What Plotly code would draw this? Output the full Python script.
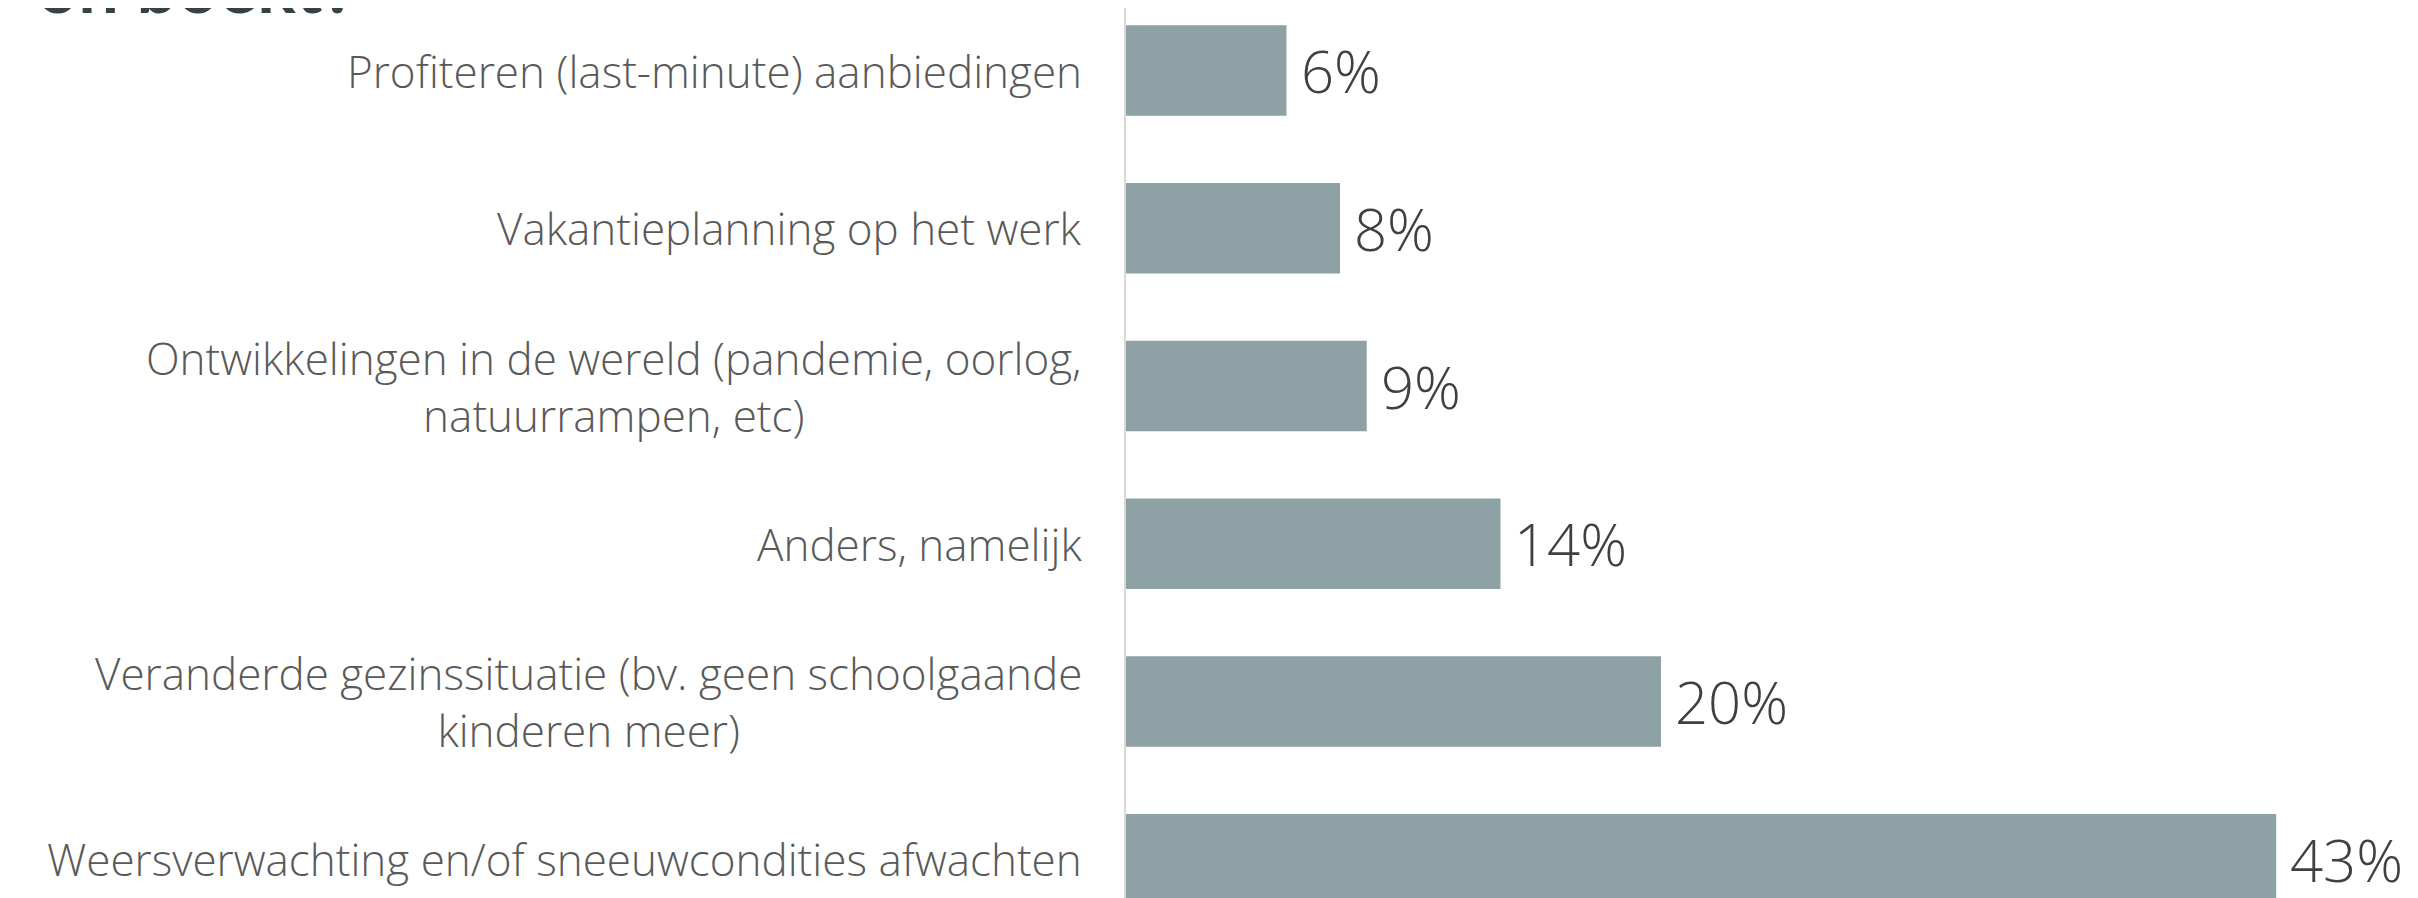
import plotly.graph_objects as go

categories = [
    "Profiteren (last-minute) aanbiedingen",
    "Vakantieplanning op het werk",
    "Ontwikkelingen in de wereld (pandemie, oorlog,<br>natuurrampen, etc)",
    "Anders, namelijk",
    "Veranderde gezinssituatie (bv. geen schoolgaande<br>kinderen meer)",
    "Weersverwachting en/of sneeuwcondities afwachten",
]
values = [6, 8, 9, 14, 20, 43]
value_labels = ["6%", "8%", "9%", "14%", "20%", "43%"]
title_fragment = "on boekt?"

# page body has an 8px margin; the figure is sized to fill the rest
W, H = 2410, 890
AXIS_X = 1118

fig = go.Figure(
    go.Bar(
        x=values,
        y=categories,
        orientation="h",
        width=0.575,
        marker=dict(color="#8ea1a4", line=dict(width=0)),
        hoverinfo="skip",
        cliponaxis=False,
    )
)

annotations = []
for cat in categories:
    annotations.append(dict(
        xref="paper", x=0, xanchor="right", xshift=-42,
        yref="y", y=cat, yanchor="middle",
        text=cat, showarrow=False, align="center",
        font=dict(family="Open Sans", size=44, color="#595959", weight=300),
    ))
for cat, v, lab in zip(categories, values, value_labels):
    annotations.append(dict(
        xref="x", x=v, xanchor="left", xshift=12,
        yref="y", y=cat, yanchor="middle",
        text=lab, showarrow=False,
        font=dict(family="Open Sans", size=58, color="#404040", weight=300),
    ))
annotations.append(dict(
    xref="paper", x=0, xanchor="right", xshift=350 - AXIS_X,
    yref="paper", y=1, yanchor="bottom", yshift=-22,
    text="<b>" + title_fragment + "</b>", showarrow=False,
    font=dict(family="Lato", size=72, color="#364346"),
))

fig.update_layout(
    width=W, height=H,
    margin=dict(l=AXIS_X, r=0, t=0, b=0),
    paper_bgcolor="white", plot_bgcolor="white",
    showlegend=False,
    annotations=annotations,
    xaxis=dict(visible=False, range=[0, 48.3], fixedrange=True),
    yaxis=dict(
        type="category", categoryorder="array", categoryarray=categories,
        range=[5.2456, -0.3962],
        showticklabels=False, showgrid=False, zeroline=False,
        showline=True, linecolor="#d9d9d9", linewidth=2, ticks="",
        fixedrange=True,
    ),
)

fig.write_html("out.html")
